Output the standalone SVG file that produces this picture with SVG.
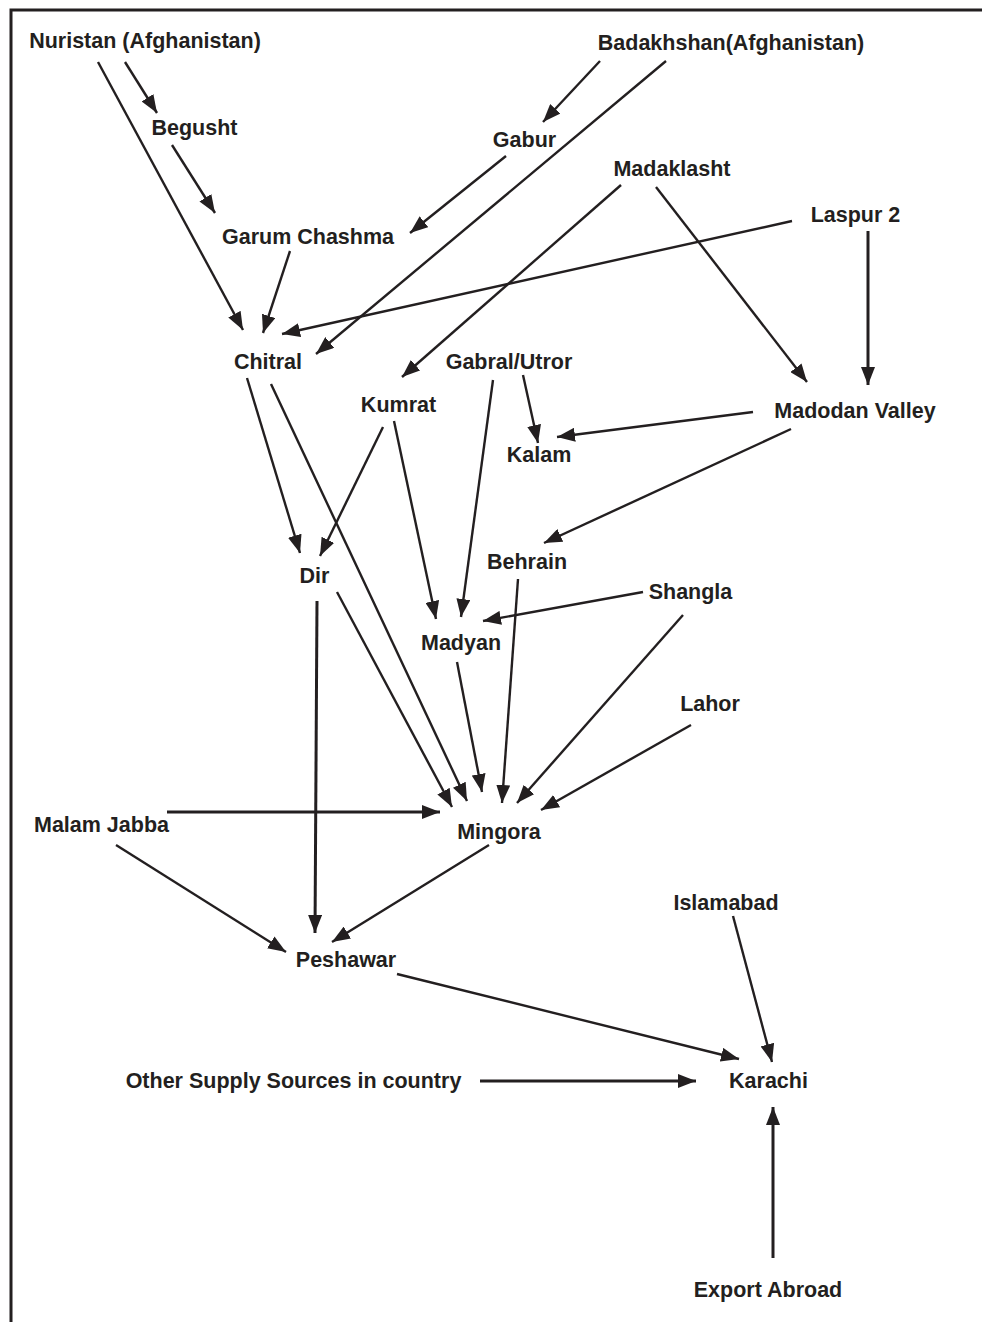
<svg xmlns="http://www.w3.org/2000/svg" width="982" height="1322" viewBox="0 0 982 1322">
<style>
text{font-family:"Liberation Sans",Arial,sans-serif;font-weight:bold;font-size:21.5px;fill:#231f20;text-anchor:middle}
.c line{stroke:#231f20;stroke-width:2.4;marker-end:url(#ah)}
.c line.t{stroke-width:3}
.frame{stroke:#231f20;stroke-width:3;fill:none}
</style>
<defs>
<marker id="ah" markerUnits="userSpaceOnUse" markerWidth="18" markerHeight="14" refX="18" refY="7" orient="auto">
<path d="M0,0 L18,7 L0,14 z" fill="#231f20"/>
</marker>
</defs>
<rect width="982" height="1322" fill="#fff"/>
<path class="frame" d="M11,1322 L11,10 L982,10"/>
<g class="c" id="connectors">
<line x1="125" y1="62" x2="157" y2="113"/>
<line x1="98" y1="62" x2="243" y2="330"/>
<line x1="172" y1="145" x2="215" y2="213"/>
<line x1="290" y1="251" x2="263" y2="333"/>
<line x1="600" y1="61" x2="543" y2="122"/>
<line x1="666" y1="61" x2="316" y2="354"/>
<line x1="506" y1="156" x2="410" y2="233"/>
<line x1="792" y1="221" x2="282" y2="334"/>
<line x1="621" y1="185" x2="402" y2="377"/>
<line x1="656" y1="187" x2="807" y2="382"/>
<line class="t" x1="868" y1="231" x2="868" y2="385"/>
<line x1="523" y1="375" x2="538" y2="443"/>
<line x1="753" y1="412" x2="557" y2="437"/>
<line x1="791" y1="429" x2="544" y2="543"/>
<line x1="247" y1="378" x2="300" y2="553"/>
<line x1="271" y1="384" x2="467" y2="801"/>
<line x1="383" y1="427" x2="320" y2="556"/>
<line x1="394" y1="421" x2="436" y2="619"/>
<line x1="493" y1="380" x2="461" y2="617"/>
<line x1="643" y1="592" x2="483" y2="621"/>
<line x1="518" y1="579" x2="502" y2="803"/>
<line x1="457" y1="662" x2="482" y2="792"/>
<line x1="683" y1="615" x2="517" y2="803"/>
<line x1="691" y1="725" x2="541" y2="810"/>
<line x1="337" y1="592" x2="452" y2="807"/>
<line class="t" x1="317" y1="601" x2="315" y2="933"/>
<line class="t" x1="167" y1="812" x2="440" y2="812"/>
<line x1="116" y1="845" x2="286" y2="952"/>
<line x1="489" y1="845" x2="332" y2="942"/>
<line x1="397" y1="974" x2="739" y2="1059"/>
<line x1="733" y1="916" x2="772" y2="1062"/>
<line class="t" x1="480" y1="1081" x2="696" y2="1081"/>
<line class="t" x1="773" y1="1258" x2="773" y2="1107"/>
</g>
<g id="nuristan"><text x="145" y="48">Nuristan (Afghanistan)</text></g>
<g id="badakhshan"><text x="731" y="50">Badakhshan(Afghanistan)</text></g>
<g id="begusht"><text x="194.5" y="135">Begusht</text></g>
<g id="gabur"><text x="524.5" y="147">Gabur</text></g>
<g id="madaklasht"><text x="672" y="176">Madaklasht</text></g>
<g id="laspur2"><text x="855.5" y="222">Laspur 2</text></g>
<g id="garum-chashma"><text x="308" y="244">Garum Chashma</text></g>
<g id="chitral"><text x="268" y="369">Chitral</text></g>
<g id="gabral-utror"><text x="509" y="369">Gabral/Utror</text></g>
<g id="kumrat"><text x="398.5" y="412">Kumrat</text></g>
<g id="madodan-valley"><text x="855" y="418">Madodan Valley</text></g>
<g id="kalam"><text x="539" y="462">Kalam</text></g>
<g id="behrain"><text x="527" y="569">Behrain</text></g>
<g id="dir"><text x="314.5" y="583">Dir</text></g>
<g id="shangla"><text x="690.5" y="599">Shangla</text></g>
<g id="madyan"><text x="461" y="650">Madyan</text></g>
<g id="lahor"><text x="710" y="711">Lahor</text></g>
<g id="malam-jabba"><text x="101.5" y="832">Malam Jabba</text></g>
<g id="mingora"><text x="499" y="839">Mingora</text></g>
<g id="peshawar"><text x="346" y="967">Peshawar</text></g>
<g id="islamabad"><text x="726" y="910">Islamabad</text></g>
<g id="karachi"><text x="768.5" y="1088">Karachi</text></g>
<g id="other-supply"><text x="293.5" y="1088">Other Supply Sources in country</text></g>
<g id="export-abroad"><text x="768" y="1297">Export Abroad</text></g>
</svg>
